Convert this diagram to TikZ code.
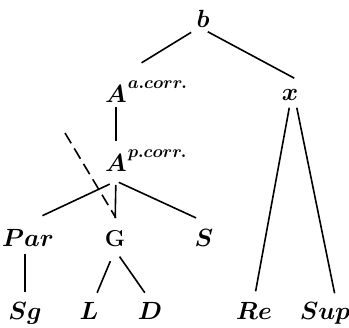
\documentclass[tikz,border=0pt]{standalone}
\usepackage{amsmath,amssymb}
\usepackage{tikz}
\newcommand{\corrsup}[1]{\rlap{\kern1pt\raisebox{14pt}{\fontsize{16}{16}\selectfont$#1.corr.$}}}

\begin{document}
\begin{tikzpicture}[x=1pt,y=-1pt,line width=1.6pt,
	every node/.style={font=\fontsize{23}{27}\selectfont\boldmath, inner sep=2pt, anchor=base}]
	\useasboundingbox (0,0) rectangle (349,328);
	% upper levels
	\node (b) at (203,28) {$b$};
	\node (Aa) at (116,103) {$A$\corrsup{a}};
	\node (x) at (290,101) {$x$};
	\node (Ap) at (116,172) {$A$\corrsup{p}};
	\node (Par) at (28,247) {$Par$};
	\node (G) at (115,247) {\bfseries G};
	\node (S) at (204,247) {$S$};
	% leaves
	\node (Sg) at (25,320) {$Sg$};
	\node (L) at (89,320) {$L$};
	\node (D) at (150,320) {$D$};
	\node (Re) at (254,320) {$Re$};
	\node (Sup) at (325,320) {$Sup$};
	\coordinate (cut) at (65,133);
	\draw[shorten <=3pt, shorten >=30pt] (b.south west) -- (Aa.north);
	\draw[shorten <=2pt, shorten >=19pt] ([xshift=3pt]b.south) -- ([xshift=10pt]x.north east);
	\draw[shorten <=1pt, shorten >=7pt] (Aa.south) -- (Ap.north);
	\draw[shorten <=4pt, shorten >=9pt] (x.south) -- (Re.north);
	\draw[shorten <=4pt, shorten >=7pt] ([xshift=6pt]x.south) -- ([xshift=11pt]Sup.north);
	\draw[shorten <=22pt, shorten >=27pt] (Ap.south east) -- ([xshift=-10pt]Par.north);
	\draw[shorten <=10pt, shorten >=10pt] (Ap.south) -- (G.north);
	\draw[shorten <=18pt, shorten >=22pt] (Ap.south west) -- (S.north east);
	\draw[shorten <=4pt, shorten >=8pt] (Sg |- Par.south) -- (Sg.north);
	\draw[shorten <=12pt, shorten >=8pt] (G.south) -- ([xshift=5pt]L.north);
	\draw[shorten <=8pt, shorten >=9pt] (G.south) -- (D.north);
	\draw[dashed, dash pattern=on 12pt off 6pt, shorten >=12pt] (cut) -- ([xshift=7pt]G.north);
\end{tikzpicture}
\end{document}
